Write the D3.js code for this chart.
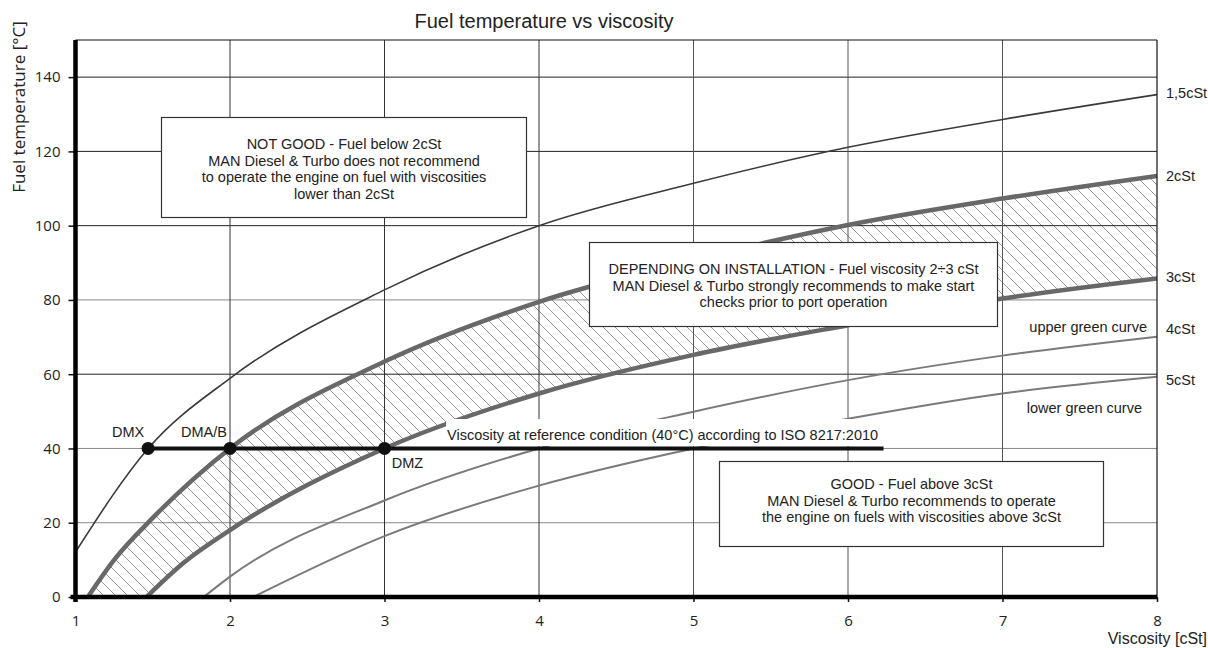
<!DOCTYPE html>
<html>
<head>
<meta charset="utf-8">
<script src="https://cdn.jsdelivr.net/npm/d3@7"></script>
<style>
  body { margin: 0; background: #fff; }
  svg text { font-family: "Liberation Sans", Arial, sans-serif; fill: #222; }
  .tick text { font-family: "Open Sans", sans-serif; font-size: 15px; fill: #222; }
</style>
</head>
<body>
<svg id="chart" width="1208" height="648"></svg>
<script>
// Curve data: viscosity [cSt] -> temperature [°C]
var visc15 = [1, 1.47, 2, 3, 4, 5, 6, 7, 8];
var temp15 = [12.1, 40, 58.9, 82.7, 100, 111.4, 121.1, 128.6, 135.3];

var visc2 = [1.08, 1.25, 1.5, 2, 3, 4, 5, 6, 7, 8];
var temp2 = [0, 10, 21.3, 40, 63.4, 79.5, 90.8, 100.2, 107.3, 113.4];

var visc3 = [1.46, 1.7, 2, 3, 4, 5, 6, 7, 8];
var temp3 = [0, 9.2, 18, 40, 54.8, 65.2, 73.2, 80.4, 85.8];

var visc4 = [1.83, 2, 3, 4, 5, 6, 7, 8];
var temp4 = [0, 5.5, 26, 40, 49.9, 58.4, 65, 70.1];

var visc5 = [2.15, 3, 4, 5, 6, 7, 8];
var temp5 = [0, 16.4, 30, 40, 48, 54.8, 59.3];

// Reference points at 40°C
var refNames = ["DMX", "DMA/B", "DMZ"];
var refVisc = [1.47, 2, 3];
var refTemp = 40;
var refLineEnd = 6.23;

// Axis ticks
var xTicks = [1, 2, 3, 4, 5, 6, 7, 8];
var yTicks = [0, 20, 40, 60, 80, 100, 120, 140];

// Curve labels on the right side
var curveNames = ["1,5cSt", "2cSt", "3cSt", "4cSt", "5cSt"];

var textNotGood = ["NOT GOOD - Fuel below 2cSt", "MAN Diesel & Turbo does not recommend",
    "to operate the engine on fuel with viscosities", "lower than 2cSt"];
var textDepending = ["DEPENDING ON INSTALLATION - Fuel viscosity 2\u00f73 cSt",
    "MAN Diesel & Turbo strongly recommends to make start", "checks prior to port operation"];
var textGood = ["GOOD - Fuel above 3cSt", "MAN Diesel & Turbo recommends to operate",
    "the engine on fuels with viscosities above 3cSt"];

function zip(xs, ys) {
    return xs.map(function(v, i) { return [v, ys[i]]; });
}

var width = 1208,
    height = 648;

var x = d3.scaleLinear().domain([1, 8]).range([75.5, 1157]);
var y = d3.scaleLinear().domain([0, 150]).range([597, 40]);

var svg = d3.select("#chart");
var defs = svg.append("defs");

// Hatch pattern for the 2-3 cSt band
defs.append("pattern")
    .attr("id", "hatch")
    .attr("patternUnits", "userSpaceOnUse")
    .attr("width", 12)
    .attr("height", 12)
  .append("path")
    .attr("d", "M0,0L12,12M-1,11L1,13M11,-1L13,1")
    .attr("stroke", "#8a8a8a")
    .attr("stroke-width", 0.9);

defs.append("clipPath")
    .attr("id", "plot")
  .append("rect")
    .attr("x", x(1))
    .attr("y", y(150))
    .attr("width", x(8) - x(1))
    .attr("height", y(0) - y(150));

var line = d3.line()
    .x(function(d) { return x(d[0]); })
    .y(function(d) { return y(d[1]); })
    .curve(d3.curveMonotoneX);

var area = d3.area()
    .x(function(d) { return x(d[0]); })
    .y0(y(0))
    .y1(function(d) { return y(d[1]); })
    .curve(d3.curveMonotoneX);

var g = svg.append("g").attr("clip-path", "url(#plot)");

// hatched band: fill under 2cSt, then blank out under 3cSt
g.append("path").datum(zip(visc2, temp2)).attr("d", area).attr("fill", "url(#hatch)");
g.append("path").datum(zip(visc3, temp3)).attr("d", area).attr("fill", "#fff");

// Grid
var darkRows = [60, 100, 120, 140];
g.selectAll(".hgrid")
    .data(yTicks.slice(1))
    .enter().append("line")
    .attr("x1", x(1)).attr("x2", x(8))
    .attr("y1", function(d) { return y(d); })
    .attr("y2", function(d) { return y(d); })
    .attr("stroke", function(d) { return darkRows.indexOf(d) >= 0 ? "#222" : "#888"; })
    .attr("stroke-width", 1);

g.selectAll(".vgrid")
    .data(xTicks.slice(1, -1))
    .enter().append("line")
    .attr("x1", function(d) { return x(d); })
    .attr("x2", function(d) { return x(d); })
    .attr("y1", y(150)).attr("y2", y(0))
    .attr("stroke", function(d) { return d <= 4 ? "#333" : "#555"; })
    .attr("stroke-width", 1);

// top + right border
svg.append("line").attr("x1", x(1)).attr("x2", x(8)).attr("y1", y(150)).attr("y2", y(150))
    .attr("stroke", "#111").attr("stroke-width", 1.2);
svg.append("line").attr("x1", x(8)).attr("x2", x(8)).attr("y1", y(150)).attr("y2", y(0))
    .attr("stroke", "#111").attr("stroke-width", 1.2);

// Thin curves
g.append("path").datum(zip(visc15, temp15)).attr("d", line)
    .attr("fill", "none").attr("stroke", "#3a3a3a").attr("stroke-width", 1.6);
g.append("path").datum(zip(visc4, temp4)).attr("d", line)
    .attr("fill", "none").attr("stroke", "#7a7a7a").attr("stroke-width", 2);
g.append("path").datum(zip(visc5, temp5)).attr("d", line)
    .attr("fill", "none").attr("stroke", "#7a7a7a").attr("stroke-width", 2);

// white backing behind the reference-line label
svg.append("rect")
    .attr("x", 446).attr("y", 419)
    .attr("width", 440).attr("height", 27)
    .attr("fill", "#fff");

svg.append("text")
    .attr("x", 447).attr("y", 439.5)
    .style("font-size", "14.5px")
    .text("Viscosity at reference condition (40\u00b0C) according to ISO 8217:2010");

// Thick 2cSt / 3cSt curves
g.append("path").datum(zip(visc2, temp2)).attr("d", line)
    .attr("fill", "none").attr("stroke", "#686868").attr("stroke-width", 4.5);
g.append("path").datum(zip(visc3, temp3)).attr("d", line)
    .attr("fill", "none").attr("stroke", "#686868").attr("stroke-width", 4.5);

// Reference line with points
svg.append("line")
    .attr("x1", x(refVisc[0])).attr("x2", x(refLineEnd))
    .attr("y1", y(refTemp)).attr("y2", y(refTemp))
    .attr("stroke", "#111").attr("stroke-width", 4);

svg.selectAll(".refpt")
    .data(refVisc)
    .enter().append("circle")
    .attr("cx", function(d) { return x(d); })
    .attr("cy", y(refTemp))
    .attr("r", 6.5)
    .attr("fill", "#111");

var refLabelPos = [[-20, -11], [-26, -11], [23, 20]];
svg.selectAll(".reflbl")
    .data(refNames)
    .enter().append("text")
    .attr("x", function(d, i) { return x(refVisc[i]) + refLabelPos[i][0]; })
    .attr("y", function(d, i) { return y(refTemp) + refLabelPos[i][1]; })
    .attr("text-anchor", "middle")
    .style("font-size", "14.5px")
    .text(function(d) { return d; });

// Annotation boxes
function box(x0, x1, y0, y1, lines, firstBase) {
    svg.append("rect")
        .attr("x", x0).attr("y", y0)
        .attr("width", x1 - x0).attr("height", y1 - y0)
        .attr("fill", "#fff")
        .attr("stroke", "#333")
        .attr("stroke-width", 1.2);
    svg.append("text")
        .attr("text-anchor", "middle")
        .style("font-size", "14.5px")
        .selectAll("tspan")
        .data(lines)
        .enter().append("tspan")
        .attr("x", (x0 + x1) / 2)
        .attr("y", function(d, i) { return firstBase + i * 16.7; })
        .text(function(d) { return d; });
}

box(161.5, 526.5, 117.5, 217.5, textNotGood, 149);
box(589.5, 997.5, 242.5, 326.5, textDepending, 274);
box(719.5, 1103.5, 461.5, 546.5, textGood, 489);

// Right-hand curve labels
var curveEnds = [temp15, temp2, temp3, temp4, temp5].map(function(t) { return t[t.length - 1]; });
var labelShift = [3, 5, 4, -3, 8];
svg.selectAll(".cname")
    .data(curveNames)
    .enter().append("text")
    .attr("x", x(8) + 9)
    .attr("y", function(d, i) { return y(curveEnds[i]) + labelShift[i]; })
    .style("font-size", "14.5px")
    .text(function(d) { return d; });

svg.append("text")
    .attr("x", x(8) - 10).attr("y", 331.5)
    .attr("text-anchor", "end")
    .style("font-size", "14.5px")
    .text("upper green curve");

svg.append("text")
    .attr("x", x(8) - 15).attr("y", 413)
    .attr("text-anchor", "end")
    .style("font-size", "14.5px")
    .text("lower green curve");

// Axes
var yAxis = svg.append("g")
    .attr("transform", "translate(" + x(1) + ",0)")
    .call(d3.axisLeft(y).tickValues(yTicks).tickSize(7).tickPadding(8));
yAxis.select(".domain").remove();
yAxis.selectAll(".tick line").attr("stroke", "#111").attr("stroke-width", 1.5);

var xAxis = svg.append("g")
    .attr("transform", "translate(0," + y(0) + ")")
    .call(d3.axisBottom(x).tickValues(xTicks).tickFormat(d3.format("d")).tickSize(5).tickPadding(13));
xAxis.select(".domain").remove();
xAxis.selectAll(".tick line").attr("stroke", "#111").attr("stroke-width", 1.5);

// Thick axis lines
svg.append("line")
    .attr("x1", x(1)).attr("x2", x(1))
    .attr("y1", y(150)).attr("y2", y(0) + 5)
    .attr("stroke", "#000").attr("stroke-width", 4.5);
svg.append("line")
    .attr("x1", x(1) - 5).attr("x2", x(8))
    .attr("y1", y(0)).attr("y2", y(0))
    .attr("stroke", "#000").attr("stroke-width", 4.5);

// Titles
svg.append("text")
    .attr("x", 544).attr("y", 28)
    .attr("text-anchor", "middle")
    .style("font-size", "20px")
    .text("Fuel temperature vs viscosity");

svg.append("text")
    .attr("x", 1207).attr("y", 644)
    .attr("text-anchor", "end")
    .style("font-size", "16px")
    .text("Viscosity [cSt]");

svg.append("text")
    .attr("transform", "translate(25,107)rotate(-90)")
    .attr("text-anchor", "middle")
    .style("font-family", "'Open Sans', sans-serif")
    .style("font-size", "17px")
    .text("Fuel temperature [\u00b0C]");
</script>
</body>
</html>
